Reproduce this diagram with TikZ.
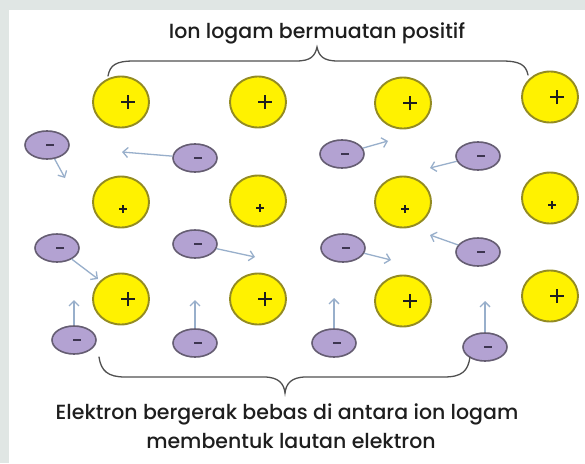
\documentclass[tikz,border=0pt]{standalone}
\usepackage{fontspec}
\setmainfont{Poppins}[UprightFont=* Medium]
\usetikzlibrary{shapes.geometric,arrows.meta}

\definecolor{ionfill}{HTML}{FFF200}
\definecolor{iondraw}{HTML}{938B22}
\definecolor{elfill}{HTML}{B3A2D2}
\definecolor{eldraw}{HTML}{655D72}
\definecolor{flow}{HTML}{98AFCB}
\definecolor{ink}{HTML}{1E1E1E}
\definecolor{minusink}{HTML}{3D3550}
\definecolor{bracecol}{HTML}{505050}
\definecolor{slide}{HTML}{E0E6E4}

\tikzset{
  ion/.style={ellipse, draw=iondraw, fill=ionfill, line width=1.9pt,
    minimum width=56pt, minimum height=51pt, inner sep=0pt},
  ionbig/.style={ion, path picture={
    \draw[ink, line width=2pt] ([xshift=7pt]path picture bounding box.center)
      +(-7pt,0) -- +(7pt,0) +(0,-7pt) -- +(0,7pt);}},
  ionsmall/.style={ion, path picture={
    \draw[ink, line width=1.3pt] ([xshift=2pt,yshift=-7pt]path picture bounding box.center)
      +(-4pt,0) -- +(4pt,0) +(0,-4pt) -- +(0,4pt);}},
  electron/.style={ellipse, draw=eldraw, fill=elfill, line width=1.6pt,
    minimum width=44pt, minimum height=28pt, inner sep=0pt, path picture={
    \draw[minusink, line width=2.8pt] ([xshift=3pt]path picture bounding box.center)
      +(-4pt,0) -- +(4pt,0);}},
  drift/.style={draw=flow, line width=1.3pt,
    -{Straight Barb[length=5pt,width=10pt,line width=1.3pt]}},
  brace/.style={draw=bracecol, line width=1.3pt, line cap=round},
  caption/.style={anchor=base, text=ink, font=\fontsize{20.5}{25}\selectfont, inner sep=0pt}
}

\begin{document}
\begin{tikzpicture}[x=1pt,y=-1pt]
  % slide background and white panel
  \fill[slide] (0,0) rectangle (585,463);
  \fill[white] (9,10) rectangle (585,463);
  \useasboundingbox (0,0) rectangle (585,463);

  % positive metal ions
  \node[ionbig]   (i11) at (121,102) {};
  \node[ionbig]   (i12) at (258,102) {};
  \node[ionbig]   (i13) at (403,103) {};
  \node[ionbig]   (i14) at (550,97)  {};
  \node[ionsmall] (i21) at (121,202) {};
  \node[ionsmall] (i22) at (258,201) {};
  \node[ionsmall] (i23) at (403,202) {};
  \node[ionsmall] (i24) at (550,198) {};
  \node[ionbig]   (i31) at (121,299) {};
  \node[ionbig]   (i32) at (258,299) {};
  \node[ionbig]   (i33) at (403,301) {};
  \node[ionbig]   (i34) at (550,296) {};

  % free electrons
  \node[electron] (e11) at (47,145)  {};
  \node[electron] (e12) at (195,158) {};
  \node[electron] (e13) at (342,154) {};
  \node[electron] (e14) at (478,156) {};
  \node[electron] (e21) at (57,248)  {};
  \node[electron] (e22) at (195,244) {};
  \node[electron] (e23) at (343,248) {};
  \node[electron] (e24) at (478,252) {};
  \node[electron] (e31) at (74,340)  {};
  \node[electron] (e32) at (195,343) {};
  \node[electron] (e33) at (334,343) {};
  \node[electron] (e34) at (485,347) {};

  % where each electron is heading
  \coordinate (t11) at (65,178);
  \coordinate (t12) at (122,152);
  \coordinate (t13) at (388,141);
  \coordinate (t14) at (430,168);
  \coordinate (t21) at (98,279);
  \coordinate (t22) at (255,257);
  \coordinate (t23) at (391,260);
  \coordinate (t24) at (430,235);
  \coordinate (t31) at (74,300);
  \coordinate (t32) at (195,300);
  \coordinate (t33) at (334,298);
  \coordinate (t34) at (485,301);

  \foreach \k in {11,12,13,14,21,22,23,24,31,32,33,34}
    \draw[drift] (e\k) -- (t\k);

  % braces
  \draw[brace] (108,76) .. controls (110,65) and (116,61) .. (134,61)
    -- (296,61) .. controls (311,61) and (315,56) .. (317,47)
    .. controls (319,56) and (323,61) .. (338,61)
    -- (502,61) .. controls (520,61) and (526,65) .. (528,75);
  \draw[brace] (99,357) .. controls (101,371) and (108,377) .. (125,377)
    -- (264,377) .. controls (279,377) and (284,384) .. (285,393)
    .. controls (286,384) and (291,377) .. (306,377)
    -- (444,377) .. controls (462,377) and (468,371) .. (470,357);

  % labels
  \node[caption] (top) at (317,38) {Ion logam bermuatan positif};
  \node[caption] (bot1) at (287,419) {Elektron bergerak bebas di antara ion logam};
  \node[caption] (bot2) at (291,448) {membentuk lautan elektron};
\end{tikzpicture}
\end{document}
